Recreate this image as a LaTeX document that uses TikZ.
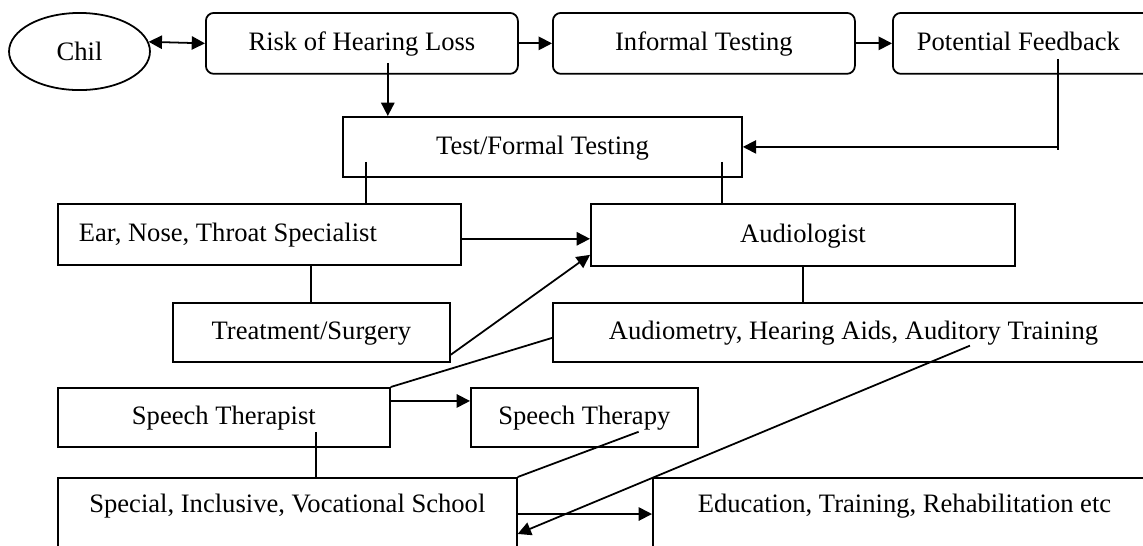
\documentclass[tikz,border=0pt]{standalone}
\usepackage{fontspec}
\setmainfont{Liberation Serif}
\usetikzlibrary{shapes.geometric}
\usetikzlibrary{arrows.meta}

\begin{document}
\begin{tikzpicture}[x=0.4513pt, y=-0.4513pt, line width=0.8pt,
	font=\fontsize{12}{14}\selectfont,
	box/.style={draw, rectangle, anchor=north west, minimum height=26.6pt, text height=9pt, text depth=2.4pt},
	rbox/.style={box, rounded corners=3.6pt, minimum height=27.5pt},
	opbox/.style={box, inner ysep=4pt, text height=11.8pt, text depth=40pt},
	arr/.style={-{Triangle[length=6pt,width=6pt]}},
	arrb/.style={{Triangle[length=6pt,width=6pt]}-{Triangle[length=6pt,width=6pt]}}]
	% Page frame (boxes run over the right and bottom edge)
	\useasboundingbox (0,0) rectangle (1143,545);
	\clip (0,0) rectangle (1143,545);
	
	% Top row
	\node[draw, ellipse, minimum width=63.6pt, minimum height=34.8pt, inner sep=0pt] (chil) at (79.5,51.5) {Chil};
	\node[rbox, minimum width=140.8pt] (risk) at (205,12) {Risk of Hearing Loss};
	\node[rbox, minimum width=136.3pt] (informal) at (552,12) {Informal Testing};
	\node[rbox, text width=104.7pt, inner xsep=10.8pt, align=flush left] (feedback) at (892,12) {Potential Feedback};
	
	% Formal testing and specialists
	\node[box, minimum width=180.1pt, minimum height=27.1pt] (test) at (342,116) {Test/Formal Testing};
	\node[box, text width=162.9pt, inner xsep=9.5pt, align=flush left, minimum height=27.5pt] (ent) at (57,203) {Ear, Nose, Throat Specialist};
	\node[box, minimum width=191.4pt, minimum height=28pt] (audio) at (590,203) {Audiologist};
	\node[box, minimum width=125pt] (treat) at (172,302) {Treatment/Surgery};
	\node[box, text width=238.3pt, inner xsep=25.3pt, align=flush left] (aids) at (552,302) {Audiometry, Hearing Aids, Auditory Training};
	
	% Speech and schooling
	\node[box, minimum width=149.8pt] (sthera) at (57,387) {Speech Therapist};
	\node[box, minimum width=102.4pt] (sthy) at (470,387) {Speech Therapy};
	\node[opbox, minimum width=207.1pt] (school) at (57,477) {Special, Inclusive, Vocational School};
	\node[opbox, text width=212.1pt, inner xsep=20.3pt, align=flush left] (edu) at (652,477) {Education, Training, Rehabilitation etc};
	
	% Top row arrows
	\draw[arrb] (chil.8) -- (risk.west);
	\draw[arr] (risk.east) -- (informal.west);
	\draw[arr] (informal.east) -- (feedback.west);
	
	% Into formal testing
	\draw[arr] ([xshift=11.7pt,yshift=5.4pt]risk.south) coordinate (r1) -- (r1 |- test.north);
	\draw ([xshift=74.9pt,yshift=7.2pt]feedback.south west) coordinate (f1) -- ([yshift=-1.5pt]f1 |- test.east);
	\draw[arr] (f1 |- test.east) -- (test.east);
	
	% Formal testing to specialists
	\draw ([xshift=10.8pt,yshift=7.2pt]test.south west) coordinate (t1) -- (t1 |- ent.north);
	\draw ([xshift=-9.5pt,yshift=7.2pt]test.south east) coordinate (t2) -- (t2 |- audio.north);
	\draw[arr] ([yshift=-2pt]ent.east) -- ([yshift=-2pt]ent.east -| audio.west);
	\draw (treat.north) -- (treat.north |- ent.south);
	\draw[arr] ([yshift=3.6pt]treat.south east) -- ([yshift=5.4pt]audio.south west);
	\draw (audio.south) -- (audio.south |- aids.north);
	
	% Therapy and school
	\draw ([yshift=-2.5pt]aids.west) -- (sthera.north east);
	\draw[arr] ([yshift=-6.3pt]sthera.north east) -- ([yshift=-6.3pt]sthera.north east -| sthy.west);
	\draw ([xshift=41.5pt,yshift=7.2pt]sthera.south) coordinate (s1) -- (s1 |- school.north);
	\draw ([xshift=-27.1pt,yshift=7.2pt]sthy.south east) -- (school.north east);
	\draw[arr] ([yshift=-16.7pt]school.north east) -- ([yshift=-16.7pt]school.north east -| edu.west);
	\draw[arr] ([xshift=188.6pt,yshift=7.7pt]aids.south west) -- ([yshift=-25.7pt]school.north east);
\end{tikzpicture}
\end{document}
